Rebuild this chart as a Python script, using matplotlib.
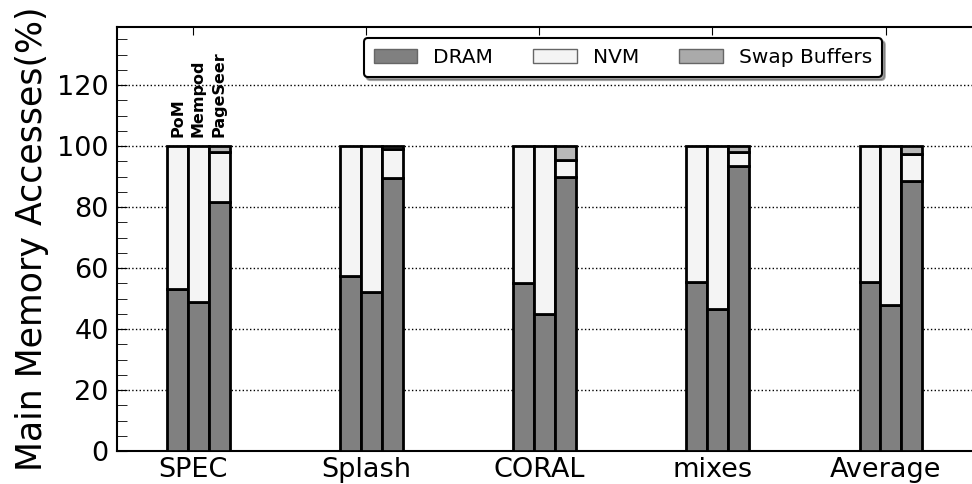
import numpy as np
import matplotlib.pyplot as plt
from matplotlib.ticker import MultipleLocator
from matplotlib.patches import Patch

# datos: % de accesos a memoria principal
grupos = ['SPEC', 'Splash', 'CORAL', 'mixes', 'Average']
esquemas = ['PoM', 'Mempod', 'PageSeer']
dram = [[53, 49, 81.5],
        [57.5, 52, 89.5],
        [55, 45, 90],
        [55.5, 46.5, 93.5],
        [55.5, 48, 88.5]]
swap = [[0, 0, 2],
        [0, 0, 0.8],
        [0, 0, 4.5],
        [0, 0, 2],
        [0, 0, 2.5]]
nvm = [[100 - d - s for d, s in zip(fd, fs)] for fd, fs in zip(dram, swap)]

c_dram = '#808080'
c_nvm = '#f4f4f4'
c_swap = '#b8b8b8'

fig = plt.figure(figsize=(9.72, 4.84), dpi=100)
ax = fig.add_axes([0.1204, 0.068, 0.885, 0.876])

w = 0.12
for i in range(len(grupos)):
    for k in range(3):
        x = i + k * w
        d = dram[i][k]
        n = nvm[i][k]
        s = swap[i][k]
        ax.bar(x, d, w, align='edge', color=c_dram, edgecolor='k', lw=2, zorder=3)
        ax.bar(x, n, w, bottom=d, align='edge', color=c_nvm, edgecolor='k', lw=2,
               zorder=3)
        if s > 0:
            ax.bar(x, s, w, bottom=d + n, align='edge', color=c_swap,
                   edgecolor='k', lw=2, zorder=3)

# etiquetas de esquemas sobre SPEC
for k, nom in enumerate(esquemas):
    ax.text(k * w + w / 2, 103, nom, rotation=90, ha='center', va='bottom',
            fontsize=11.5, fontweight='bold')

ax.set_xlim(-0.29, 4.68)
ax.set_ylim(0, 139)
ax.set_xticks(np.arange(len(grupos)) + 0.15)
ax.set_xticklabels(grupos, fontsize=19.5)
ax.yaxis.set_major_locator(MultipleLocator(20))
ax.yaxis.set_minor_locator(MultipleLocator(5))
ax.tick_params(axis='y', which='both', direction='in', length=7, labelsize=19.5,
               right=False, pad=6)
ax.tick_params(axis='x', direction='in', length=6, top=True, pad=4)
ax.yaxis.grid(True, linestyle=':', color='k', lw=1)
ax.set_ylabel('Main Memory Accesses(%)', fontsize=25, labelpad=6)
for sp in ax.spines.values():
    sp.set_linewidth(1.5)

handles = [Patch(facecolor=c_dram, edgecolor='0.4', label='DRAM'),
           Patch(facecolor=c_nvm, edgecolor='0.4', label='NVM'),
           Patch(facecolor='#aaaaaa', edgecolor='0.4', label='Swap Buffers')]
leg = ax.legend(handles=handles, ncol=3, loc='upper center',
                bbox_to_anchor=(0.588, 0.974), borderaxespad=0, fontsize=14.5,
                shadow=True, fancybox=True, handlelength=2.15,
                columnspacing=2.0, borderpad=0.5, handletextpad=0.8)
leg.get_frame().set_edgecolor('k')
leg.get_frame().set_linewidth(1.5)

fig.savefig('out.png', dpi=100)
